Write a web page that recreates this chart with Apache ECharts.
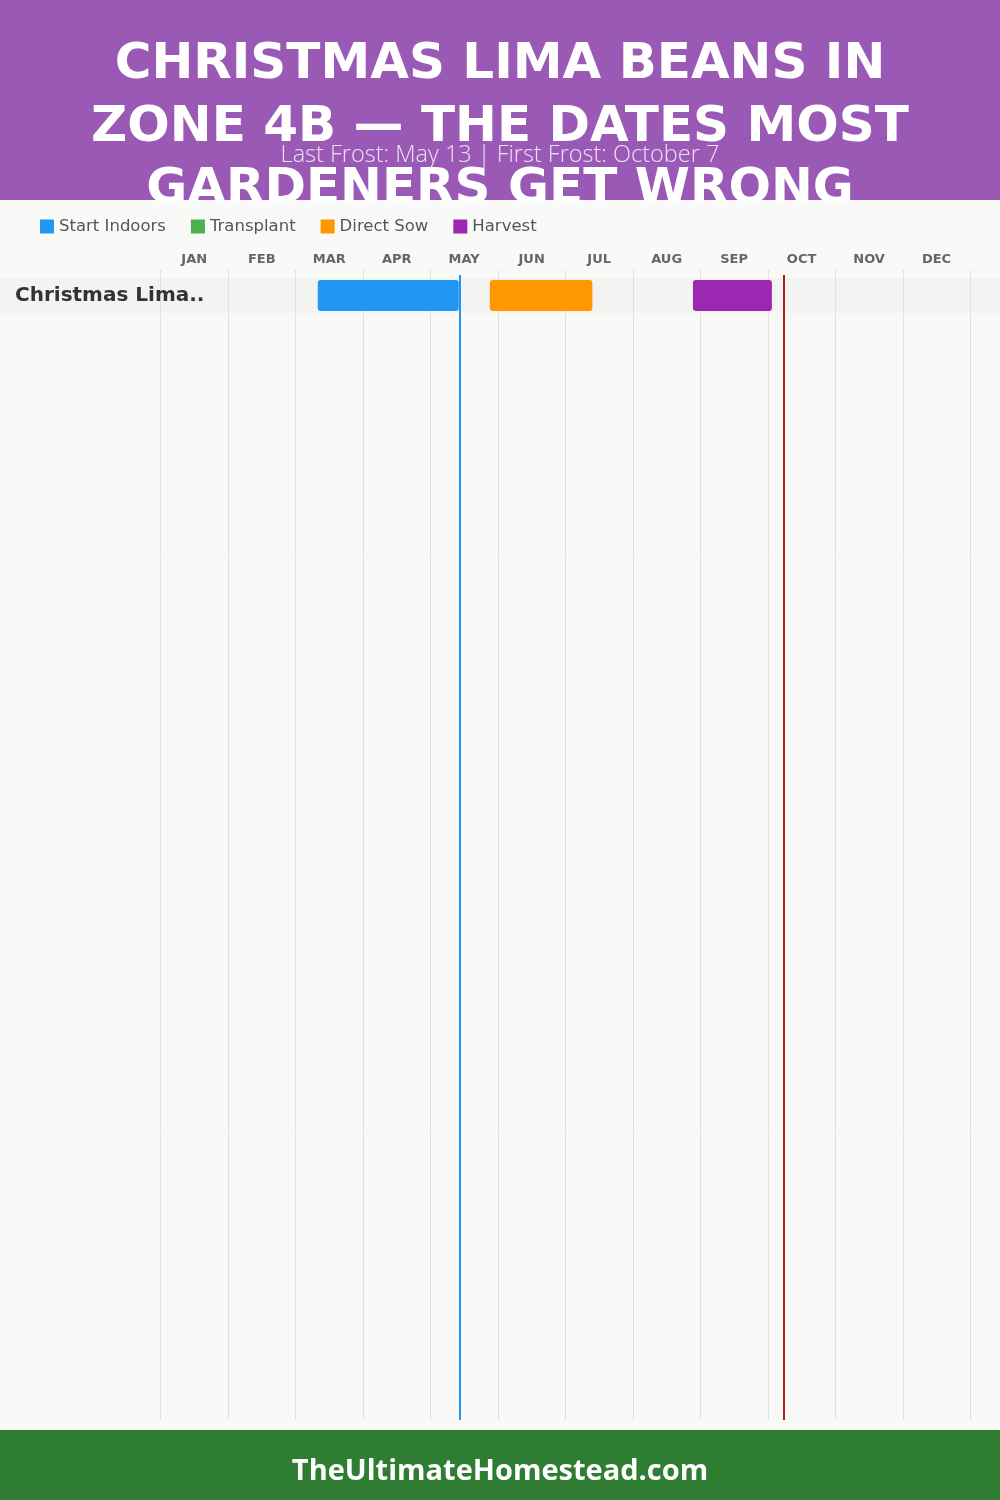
<!DOCTYPE html>
<html>
<head>
<meta charset="utf-8">
<script src="https://cdn.jsdelivr.net/npm/echarts@6/dist/echarts.min.js"></script>
<style>
html,body{margin:0;padding:0;background:#f9f9f7;}
#chart{width:1000px;height:1500px;}
</style>
</head>
<body>
<div id="chart"></div>
<script>
// ---- data ----
const titleLines = ['CHRISTMAS LIMA BEANS IN', 'ZONE 4B — THE DATES MOST', 'GARDENERS GET WRONG'];
const subtitle = 'Last Frost: May 13 | First Frost: October 7';
const footerText = 'TheUltimateHomestead.com';
const months = ['JAN','FEB','MAR','APR','MAY','JUN','JUL','AUG','SEP','OCT','NOV','DEC'];
const crops = ['Christmas Lima Beans'];
// phase windows in month units (0 = Jan 1, 12 = Dec 31): [start, end, cropIndex]
const startIndoors = [[2.33, 4.42, 0]];
const transplant = [];
const directSow = [[4.88, 6.40, 0]];
const harvest = [[7.89, 9.06, 0]];
const lastFrost = 4.435;
const firstFrost = 9.24;

const phaseNames = ['Start Indoors', 'Transplant', 'Direct Sow', 'Harvest'];
const phaseColors = ['#2196f3', '#4caf50', '#ff9800', '#9c27b0'];
const phaseData = [startIndoors, transplant, directSow, harvest];

const chart = echarts.init(document.getElementById('chart'), null, {renderer: 'canvas'});

const GL = 160.5, GR = 29.7;

function barRender(params, api) {
  const s = api.coord([api.value(0), api.value(2)]);
  const e = api.coord([api.value(1), api.value(2)]);
  const h = 31;
  return {
    type: 'rect',
    shape: {x: s[0], y: s[1] - h / 2, width: e[0] - s[0], height: h, r: 3},
    style: {fill: api.visual('color')}
  };
}

const series = [];
// row band
series.push({
  type: 'custom', name: '_band', xAxisIndex: 2, yAxisIndex: 1, z: 5, silent: true,
  data: crops.map((c, i) => [0, i]),
  renderItem: function (params, api) {
    const p = api.coord([0, api.value(1)]);
    return {type: 'rect', shape: {x: 0, y: p[1] - 17.5, width: api.getWidth(), height: 35},
      style: {fill: '#f3f3f1'}};
  }
});
phaseNames.forEach((n, k) => {
  series.push({
    type: 'custom', name: n, xAxisIndex: 2, yAxisIndex: 1, z: 10,
    itemStyle: {color: phaseColors[k]},
    encode: {x: [0, 1], y: 2},
    data: phaseData[k],
    renderItem: barRender
  });
});
// frost lines
series.push({
  type: 'line', name: '_frost', xAxisIndex: 3, yAxisIndex: 2, z: 30, data: [], silent: true,
  markLine: {
    z: 30,
    symbol: ['none', 'none'], silent: true, animation: false,
    label: {show: false},
    data: [
      {xAxis: lastFrost, lineStyle: {color: '#2196f3', width: 2, type: 'solid'}},
      {xAxis: firstFrost, lineStyle: {color: '#b71c1c', width: 2, type: 'solid'}}
    ]
  }
});

const option = {
  backgroundColor: '#f9f9f7',
  animation: false,
  textStyle: {fontFamily: 'DejaVu Sans'},
  graphic: [
    {type: 'rect', z: 1, shape: {x: 0, y: 0, width: 1000, height: 200}, style: {fill: '#9b59b6'}},
    {type: 'text', z: 2, x: 500, y: 34, style: {
      text: titleLines.join('\n'), fill: '#ffffff', align: 'center', verticalAlign: 'top',
      font: 'bold 50px "DejaVu Sans"', lineHeight: 62.5}},
    {type: 'rect', z: 3, shape: {x: 0, y: 201, width: 1000, height: 1229}, style: {fill: '#f9f9f7'}},
    {type: 'text', z: 4, x: 500, y: 155, style: {
      text: subtitle, fill: 'rgba(255,255,255,0.82)', align: 'center', verticalAlign: 'middle',
      font: '300 23.5px "Open Sans"'}},
    {type: 'rect', z: 3, shape: {x: 0, y: 1430, width: 1000, height: 70}, style: {fill: '#2e7d32'}},
    {type: 'text', z: 4, x: 500, y: 1472, style: {
      text: footerText, fill: '#ffffff', align: 'center', verticalAlign: 'middle',
      font: 'bold 29px "Open Sans"'}}
  ],
  legend: {
    z: 10, left: 40, top: 218, itemWidth: 14, itemHeight: 14, itemGap: 25, icon: 'rect',
    padding: 0, data: phaseNames,
    textStyle: {fontSize: 16.5, color: '#555', fontFamily: 'DejaVu Sans'}
  },
  grid: [
    {left: GL, right: GR, top: 270, bottom: 80},
    {left: GL, right: GR, top: 278, height: 35},
    {left: GL, right: GR, top: 275, bottom: 80}
  ],
  xAxis: [
    {type: 'value', gridIndex: 0, min: 0, max: 12, interval: 1, z: 6,
      axisLabel: {show: false}, axisLine: {show: false}, axisTick: {show: false},
      splitLine: {show: true, lineStyle: {color: '#e0e0e0', width: 1}}},
    {type: 'category', gridIndex: 0, position: 'top', data: months, boundaryGap: true, z: 6,
      axisLine: {show: false}, axisTick: {show: false},
      axisLabel: {fontSize: 13, fontWeight: 'bold', color: '#666', margin: 4, fontFamily: 'DejaVu Sans'}},
    {type: 'value', gridIndex: 1, min: 0, max: 12, show: false},
    {type: 'value', gridIndex: 2, min: 0, max: 12, show: false}
  ],
  yAxis: [
    {type: 'value', gridIndex: 0, show: false},
    {type: 'category', gridIndex: 1, data: crops, inverse: true, z: 12,
      axisLine: {show: false}, axisTick: {show: false}, splitLine: {show: false},
      axisLabel: {align: 'left', margin: GL - 15, fontSize: 20, fontWeight: 'bold', color: '#333',
        fontFamily: 'DejaVu Sans', padding: [5, 0, 0, 0],
        formatter: v => v.length > 14 ? v.slice(0, 14) + '..' : v}},
    {type: 'value', gridIndex: 2, show: false, min: 0, max: 1}
  ],
  series: series
};
chart.setOption(option);
</script>
</body>
</html>
